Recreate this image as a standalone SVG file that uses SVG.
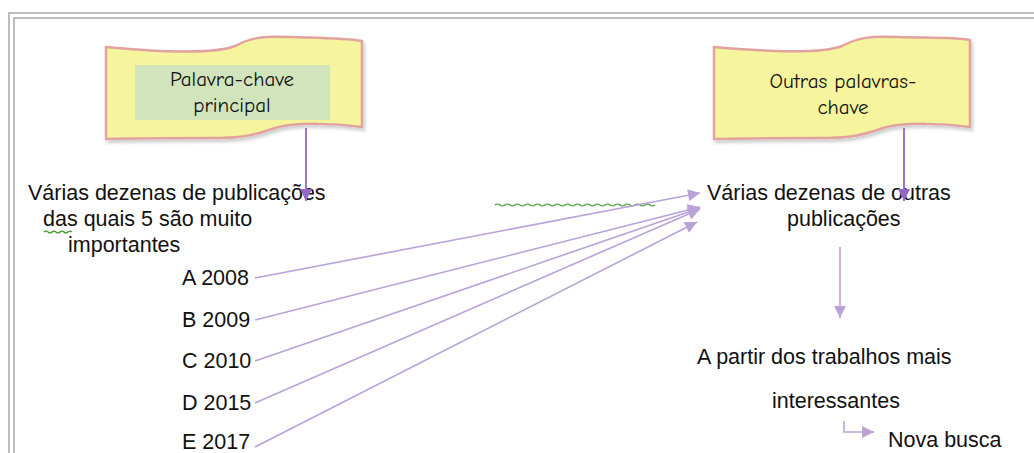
<svg xmlns="http://www.w3.org/2000/svg" width="1034" height="453" viewBox="0 0 1034 453">
<defs>
<style>
.t{font-family:"Liberation Sans",Arial,sans-serif;font-size:21.5px;fill:#111}
.c{font-family:"Comic Neue","DejaVu Sans",sans-serif;font-size:21px;fill:#111;text-anchor:middle}
.ban{fill:#f6f49c;stroke:#e2a3a0;stroke-width:2.5}
.lt{stroke:#b9a2d8;stroke-width:1.6;fill:none}
.dk{stroke:#9466c6;stroke-width:1.8;fill:none}
.wv{stroke:#3a9a2a;stroke-width:1.2;fill:none}
</style>
<filter id="sh" x="-5%" y="-5%" width="115%" height="120%"><feDropShadow dx="2" dy="3" stdDeviation="1.5" flood-color="#000" flood-opacity="0.18"/></filter>
<marker id="ad" viewBox="0 0 10 10" refX="10" refY="5" markerWidth="13" markerHeight="12" markerUnits="userSpaceOnUse" orient="auto"><path d="M0,0 L10,5 L0,10 z" fill="#9466c6"/></marker>
<marker id="al" viewBox="0 0 10 10" refX="10" refY="5" markerWidth="13" markerHeight="12" markerUnits="userSpaceOnUse" orient="auto"><path d="M0,0 L10,5 L0,10 z" fill="#b9a2d8"/></marker>
</defs>
<rect width="1034" height="453" fill="#fff"/>
<g id="frame" fill="none" stroke="#a8a8a8" stroke-width="1.5">
<path d="M9,453 V13 H1034"/>
<path d="M14,453 V18 H1034"/>
</g>
<g id="banner1">
<path class="ban" filter="url(#sh)" d="M106,47 C160,52 215,54 235,46 C250,38 260,36 290,37 C320,38 345,38 362,41 L362,127 C340,124 295,121 272,129 C250,137 235,138 210,138 C170,138 135,138 106,139 Z"/>
<rect x="135" y="65" width="195" height="55" fill="#d1e4bb"/>
<text class="c" x="232" y="86">Palavra-chave</text>
<text class="c" x="232" y="112">principal</text>
</g>
<g id="banner2">
<path class="ban" filter="url(#sh)" d="M714,47 C770,52 822,54 842,46 C857,38 868,36 898,37 C928,38 953,37 970,40 L970,127 C948,124 903,121 880,129 C858,137 843,138 818,138 C778,138 743,138 714,139 Z"/>
<text class="c" x="843" y="88">Outras palavras-</text>
<text class="c" x="843" y="114">chave</text>
</g>
<g id="text-left">
<text class="t" x="28" y="200">Várias dezenas de publicações</text>
<text class="t" x="43" y="226">das quais 5 são muito</text>
<text class="t" x="68" y="252">importantes</text>
<path class="wv" d="M44,232 q2,-2 4,0 t4,0 t4,0 t4,0 t4,0 t4,0 t4,0"/>
</g>
<g id="items">
<text class="t" x="182" y="285">A 2008</text>
<text class="t" x="182" y="327">B 2009</text>
<text class="t" x="182" y="368">C 2010</text>
<text class="t" x="182" y="410">D 2015</text>
<text class="t" x="182" y="449">E 2017</text>
</g>
<g id="text-right">
<text class="t" x="707" y="200">Várias dezenas de outras</text>
<text class="t" x="787" y="226">publicações</text>
<path class="wv" d="M495,205 q2.5,-2 5,0 t5,0 t5,0 t5,0 t5,0 t5,0 t5,0 t5,0 t5,0 t5,0 t5,0 t5,0 t5,0 t5,0 t5,0 t5,0 t5,0 t5,0 t5,0 t5,0 t5,0 t5,0 t5,0 t5,0 t5,0 t5,0 t5,0 t5,0 t5,0 t5,0 t5,0 t5,0"/>
<text class="t" x="697" y="364">A partir dos trabalhos mais</text>
<text class="t" x="772" y="408">interessantes</text>
<text class="t" x="888" y="447">Nova busca</text>
</g>
<g id="connectors">
<line class="dk" x1="306" y1="128" x2="306" y2="201" marker-end="url(#ad)"/>
<line class="dk" x1="904" y1="128" x2="904" y2="201" marker-end="url(#ad)"/>
<line class="lt" x1="255" y1="278" x2="700" y2="193" marker-end="url(#al)"/>
<line class="lt" x1="255" y1="320" x2="700" y2="207" marker-end="url(#al)"/>
<line class="lt" x1="255" y1="361" x2="700" y2="208" marker-end="url(#al)"/>
<line class="lt" x1="255" y1="403" x2="700" y2="209" marker-end="url(#al)"/>
<line class="lt" x1="255" y1="447" x2="697" y2="222" marker-end="url(#al)"/>
<line class="lt" x1="840" y1="247" x2="840" y2="318" marker-end="url(#al)"/>
<path class="lt" d="M844,421 V432 H874" marker-end="url(#al)"/>
</g>
</svg>
